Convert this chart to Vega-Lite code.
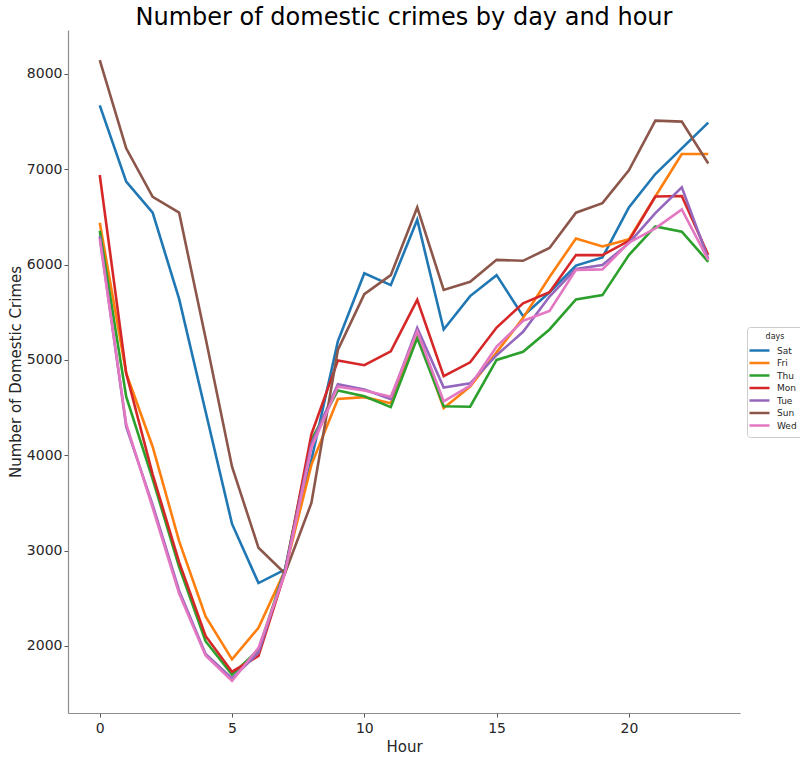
{
  "$schema": "https://vega.github.io/schema/vega-lite/v6.json",
  "autosize": {"type": "none"},
  "padding": {"left": 68, "top": 30, "right": 60, "bottom": 46},
  "width": 672,
  "height": 683,
  "title": {
    "text": "Number of domestic crimes by day and hour",
    "font": "DejaVu Sans",
    "fontSize": 24,
    "fontWeight": "normal",
    "color": "#000000",
    "anchor": "middle",
    "offset": 0
  },
  "config": {
    "font": "DejaVu Sans",
    "view": {"stroke": "transparent"},
    "axis": {
      "grid": false,
      "domainColor": "#8c8c8c",
      "domainWidth": 1.2,
      "tickColor": "#555555",
      "tickSize": 4,
      "labelFont": "DejaVu Sans",
      "labelFontSize": 14,
      "labelColor": "#262626",
      "titleFont": "DejaVu Sans",
      "titleFontSize": 15,
      "titleFontWeight": "normal",
      "titleColor": "#262626"
    }
  },
  "data": {
    "values": [
      {"hour": 0, "day": "Sat", "crimes": 7670}, {"hour": 1, "day": "Sat", "crimes": 6870}, {"hour": 2, "day": "Sat", "crimes": 6545}, {"hour": 3, "day": "Sat", "crimes": 5640},
      {"hour": 4, "day": "Sat", "crimes": 4460}, {"hour": 5, "day": "Sat", "crimes": 3280}, {"hour": 6, "day": "Sat", "crimes": 2660}, {"hour": 7, "day": "Sat", "crimes": 2800},
      {"hour": 8, "day": "Sat", "crimes": 3950}, {"hour": 9, "day": "Sat", "crimes": 5195}, {"hour": 10, "day": "Sat", "crimes": 5910}, {"hour": 11, "day": "Sat", "crimes": 5785},
      {"hour": 12, "day": "Sat", "crimes": 6470}, {"hour": 13, "day": "Sat", "crimes": 5320}, {"hour": 14, "day": "Sat", "crimes": 5670}, {"hour": 15, "day": "Sat", "crimes": 5890},
      {"hour": 16, "day": "Sat", "crimes": 5460}, {"hour": 17, "day": "Sat", "crimes": 5710}, {"hour": 18, "day": "Sat", "crimes": 5990}, {"hour": 19, "day": "Sat", "crimes": 6075},
      {"hour": 20, "day": "Sat", "crimes": 6600}, {"hour": 21, "day": "Sat", "crimes": 6950}, {"hour": 22, "day": "Sat", "crimes": 7220}, {"hour": 23, "day": "Sat", "crimes": 7490},

      {"hour": 0, "day": "Fri", "crimes": 6440}, {"hour": 1, "day": "Fri", "crimes": 4860}, {"hour": 2, "day": "Fri", "crimes": 4090}, {"hour": 3, "day": "Fri", "crimes": 3100},
      {"hour": 4, "day": "Fri", "crimes": 2310}, {"hour": 5, "day": "Fri", "crimes": 1860}, {"hour": 6, "day": "Fri", "crimes": 2190}, {"hour": 7, "day": "Fri", "crimes": 2790},
      {"hour": 8, "day": "Fri", "crimes": 3900}, {"hour": 9, "day": "Fri", "crimes": 4590}, {"hour": 10, "day": "Fri", "crimes": 4610}, {"hour": 11, "day": "Fri", "crimes": 4545},
      {"hour": 12, "day": "Fri", "crimes": 5280}, {"hour": 13, "day": "Fri", "crimes": 4495}, {"hour": 14, "day": "Fri", "crimes": 4720}, {"hour": 15, "day": "Fri", "crimes": 5080},
      {"hour": 16, "day": "Fri", "crimes": 5440}, {"hour": 17, "day": "Fri", "crimes": 5870}, {"hour": 18, "day": "Fri", "crimes": 6275}, {"hour": 19, "day": "Fri", "crimes": 6190},
      {"hour": 20, "day": "Fri", "crimes": 6265}, {"hour": 21, "day": "Fri", "crimes": 6715}, {"hour": 22, "day": "Fri", "crimes": 7160}, {"hour": 23, "day": "Fri", "crimes": 7160},

      {"hour": 0, "day": "Thu", "crimes": 6355}, {"hour": 1, "day": "Thu", "crimes": 4615}, {"hour": 2, "day": "Thu", "crimes": 3750}, {"hour": 3, "day": "Thu", "crimes": 2830},
      {"hour": 4, "day": "Thu", "crimes": 2050}, {"hour": 5, "day": "Thu", "crimes": 1700}, {"hour": 6, "day": "Thu", "crimes": 1960}, {"hour": 7, "day": "Thu", "crimes": 2800},
      {"hour": 8, "day": "Thu", "crimes": 4160}, {"hour": 9, "day": "Thu", "crimes": 4680}, {"hour": 10, "day": "Thu", "crimes": 4620}, {"hour": 11, "day": "Thu", "crimes": 4505},
      {"hour": 12, "day": "Thu", "crimes": 5230}, {"hour": 13, "day": "Thu", "crimes": 4515}, {"hour": 14, "day": "Thu", "crimes": 4510}, {"hour": 15, "day": "Thu", "crimes": 5000},
      {"hour": 16, "day": "Thu", "crimes": 5085}, {"hour": 17, "day": "Thu", "crimes": 5320}, {"hour": 18, "day": "Thu", "crimes": 5635}, {"hour": 19, "day": "Thu", "crimes": 5680},
      {"hour": 20, "day": "Thu", "crimes": 6100}, {"hour": 21, "day": "Thu", "crimes": 6400}, {"hour": 22, "day": "Thu", "crimes": 6345}, {"hour": 23, "day": "Thu", "crimes": 6030},

      {"hour": 0, "day": "Mon", "crimes": 6940}, {"hour": 1, "day": "Mon", "crimes": 4860}, {"hour": 2, "day": "Mon", "crimes": 3800}, {"hour": 3, "day": "Mon", "crimes": 2880},
      {"hour": 4, "day": "Mon", "crimes": 2105}, {"hour": 5, "day": "Mon", "crimes": 1730}, {"hour": 6, "day": "Mon", "crimes": 1895}, {"hour": 7, "day": "Mon", "crimes": 2770},
      {"hour": 8, "day": "Mon", "crimes": 4220}, {"hour": 9, "day": "Mon", "crimes": 4995}, {"hour": 10, "day": "Mon", "crimes": 4945}, {"hour": 11, "day": "Mon", "crimes": 5090},
      {"hour": 12, "day": "Mon", "crimes": 5630}, {"hour": 13, "day": "Mon", "crimes": 4830}, {"hour": 14, "day": "Mon", "crimes": 4975}, {"hour": 15, "day": "Mon", "crimes": 5340},
      {"hour": 16, "day": "Mon", "crimes": 5595}, {"hour": 17, "day": "Mon", "crimes": 5710}, {"hour": 18, "day": "Mon", "crimes": 6100}, {"hour": 19, "day": "Mon", "crimes": 6100},
      {"hour": 20, "day": "Mon", "crimes": 6250}, {"hour": 21, "day": "Mon", "crimes": 6715}, {"hour": 22, "day": "Mon", "crimes": 6720}, {"hour": 23, "day": "Mon", "crimes": 6100},

      {"hour": 0, "day": "Tue", "crimes": 6300}, {"hour": 1, "day": "Tue", "crimes": 4300}, {"hour": 2, "day": "Tue", "crimes": 3480}, {"hour": 3, "day": "Tue", "crimes": 2580},
      {"hour": 4, "day": "Tue", "crimes": 1915}, {"hour": 5, "day": "Tue", "crimes": 1660}, {"hour": 6, "day": "Tue", "crimes": 1930}, {"hour": 7, "day": "Tue", "crimes": 2790},
      {"hour": 8, "day": "Tue", "crimes": 4120}, {"hour": 9, "day": "Tue", "crimes": 4745}, {"hour": 10, "day": "Tue", "crimes": 4690}, {"hour": 11, "day": "Tue", "crimes": 4590},
      {"hour": 12, "day": "Tue", "crimes": 5335}, {"hour": 13, "day": "Tue", "crimes": 4710}, {"hour": 14, "day": "Tue", "crimes": 4755}, {"hour": 15, "day": "Tue", "crimes": 5050},
      {"hour": 16, "day": "Tue", "crimes": 5295}, {"hour": 17, "day": "Tue", "crimes": 5665}, {"hour": 18, "day": "Tue", "crimes": 5955}, {"hour": 19, "day": "Tue", "crimes": 5995},
      {"hour": 20, "day": "Tue", "crimes": 6225}, {"hour": 21, "day": "Tue", "crimes": 6540}, {"hour": 22, "day": "Tue", "crimes": 6810}, {"hour": 23, "day": "Tue", "crimes": 6060},

      {"hour": 0, "day": "Sun", "crimes": 8145}, {"hour": 1, "day": "Sun", "crimes": 7220}, {"hour": 2, "day": "Sun", "crimes": 6710}, {"hour": 3, "day": "Sun", "crimes": 6545},
      {"hour": 4, "day": "Sun", "crimes": 5230}, {"hour": 5, "day": "Sun", "crimes": 3880}, {"hour": 6, "day": "Sun", "crimes": 3030}, {"hour": 7, "day": "Sun", "crimes": 2760},
      {"hour": 8, "day": "Sun", "crimes": 3500}, {"hour": 9, "day": "Sun", "crimes": 5105}, {"hour": 10, "day": "Sun", "crimes": 5690}, {"hour": 11, "day": "Sun", "crimes": 5890},
      {"hour": 12, "day": "Sun", "crimes": 6600}, {"hour": 13, "day": "Sun", "crimes": 5735}, {"hour": 14, "day": "Sun", "crimes": 5820}, {"hour": 15, "day": "Sun", "crimes": 6050},
      {"hour": 16, "day": "Sun", "crimes": 6040}, {"hour": 17, "day": "Sun", "crimes": 6175}, {"hour": 18, "day": "Sun", "crimes": 6545}, {"hour": 19, "day": "Sun", "crimes": 6645},
      {"hour": 20, "day": "Sun", "crimes": 6990}, {"hour": 21, "day": "Sun", "crimes": 7510}, {"hour": 22, "day": "Sun", "crimes": 7500}, {"hour": 23, "day": "Sun", "crimes": 7060},

      {"hour": 0, "day": "Wed", "crimes": 6270}, {"hour": 1, "day": "Wed", "crimes": 4330}, {"hour": 2, "day": "Wed", "crimes": 3450}, {"hour": 3, "day": "Wed", "crimes": 2550},
      {"hour": 4, "day": "Wed", "crimes": 1900}, {"hour": 5, "day": "Wed", "crimes": 1635}, {"hour": 6, "day": "Wed", "crimes": 1980}, {"hour": 7, "day": "Wed", "crimes": 2760},
      {"hour": 8, "day": "Wed", "crimes": 4080}, {"hour": 9, "day": "Wed", "crimes": 4720}, {"hour": 10, "day": "Wed", "crimes": 4680}, {"hour": 11, "day": "Wed", "crimes": 4615},
      {"hour": 12, "day": "Wed", "crimes": 5300}, {"hour": 13, "day": "Wed", "crimes": 4565}, {"hour": 14, "day": "Wed", "crimes": 4730}, {"hour": 15, "day": "Wed", "crimes": 5140},
      {"hour": 16, "day": "Wed", "crimes": 5410}, {"hour": 17, "day": "Wed", "crimes": 5515}, {"hour": 18, "day": "Wed", "crimes": 5945}, {"hour": 19, "day": "Wed", "crimes": 5950},
      {"hour": 20, "day": "Wed", "crimes": 6230}, {"hour": 21, "day": "Wed", "crimes": 6380}, {"hour": 22, "day": "Wed", "crimes": 6580}, {"hour": 23, "day": "Wed", "crimes": 6050}
    ]
  },
  "mark": {"type": "line", "strokeWidth": 2.6, "clip": true},
  "encoding": {
    "x": {
      "field": "hour",
      "type": "quantitative",
      "title": "Hour",
      "scale": {"domain": [-1.2, 24.2], "nice": false, "zero": false},
      "axis": {"values": [0, 5, 10, 15, 20], "labelPadding": 4, "titlePadding": 4}
    },
    "y": {
      "field": "crimes",
      "type": "quantitative",
      "title": "Number of Domestic Crimes",
      "scale": {"domain": [1297, 8461], "nice": false, "zero": false},
      "axis": {"values": [2000, 3000, 4000, 5000, 6000, 7000, 8000], "format": "d", "labelPadding": 2, "titlePadding": 3}
    },
    "color": {
      "field": "day",
      "type": "nominal",
      "title": "days",
      "scale": {
        "domain": ["Sat", "Fri", "Thu", "Mon", "Tue", "Sun", "Wed"],
        "range": ["#1f77b4", "#ff7f0e", "#2ca02c", "#d62728", "#9467bd", "#8c564b", "#e377c2"]
      },
      "legend": {
        "orient": "none",
        "legendX": 679,
        "legendY": 297,
        "symbolType": "M-2,0L2,0",
        "symbolSize": 100,
        "symbolStrokeWidth": 2.5,
        "titleFontSize": 8,
        "titleFontWeight": "normal",
        "titleColor": "#262626",
        "titleAnchor": "middle",
        "titlePadding": 3,
        "labelFontSize": 9,
        "labelColor": "#262626",
        "labelOffset": 11,
        "rowPadding": 0.5,
        "padding": 6,
        "strokeColor": "#cccccc",
        "cornerRadius": 3
      }
    },
    "order": {"field": "hour", "type": "quantitative"}
  }
}
